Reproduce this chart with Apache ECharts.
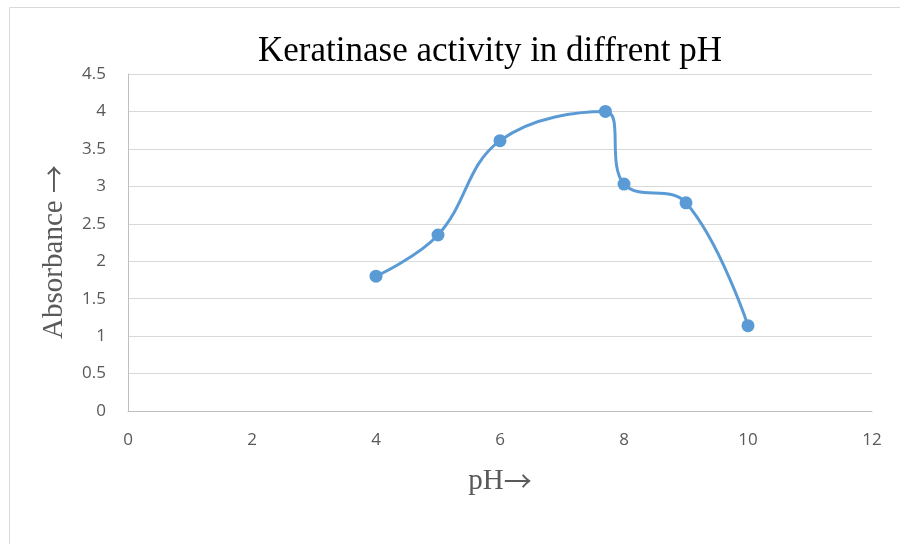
<!DOCTYPE html>
<html>
<head>
<meta charset="utf-8">
<script src="https://cdn.jsdelivr.net/npm/echarts@6/dist/echarts.min.js"></script>
<style>
  html, body { margin: 0; padding: 0; background: #fff; }
  #chart { width: 900px; height: 544px; }
</style>
</head>
<body>
<div id="chart"></div>
<script>
// pH values and measured absorbance
var phValues = [4, 5, 6, 7.7, 8, 9, 10]
var absorbance = [1.8, 2.35, 3.61, 4.0, 3.03, 2.78, 1.14]
var xTicks = [0, 2, 4, 6, 8, 10, 12]
var yTicks = [0, 0.5, 1, 1.5, 2, 2.5, 3, 3.5, 4, 4.5]

var myChart = echarts.init(document.getElementById('chart'))
var points = phValues.map(function (x, i) { return [x, absorbance[i]] })

var nameRich = {
  t: { fontFamily: 'Liberation Serif', fontSize: 29, color: '#595959' },
  a: { fontFamily: 'Noto Sans CJK SC', fontSize: 28, color: '#595959' }
}
// graphic 里的富文本用 fill
var graphicRich = {
  t: { fontFamily: 'Liberation Serif', fontSize: 29, fill: '#595959' },
  a: { fontFamily: 'Noto Sans CJK SC', fontSize: 28, fill: '#595959' }
}

var option = {
  animation: false,
  graphic: [{
    type: 'rect',
    shape: { x: 9.5, y: 7.5, width: 900, height: 600 },
    style: { fill: 'none', stroke: '#d9d9d9', lineWidth: 1 }
  }, {
    // y 轴名称
    type: 'text',
    x: 54,
    y: 252,
    rotation: Math.PI / 2,
    style: {
      text: '{t|Absorbance }{a|→}',
      rich: graphicRich,
      fill: '#595959',
      align: 'center',
      verticalAlign: 'middle'
    }
  }],
  title: {
    text: 'Keratinase activity in diffrent pH',
    left: 485,
    top: 29,
    textAlign: 'center',
    textStyle: {
      fontFamily: 'Liberation Serif',
      fontSize: 35,
      fontWeight: 'normal',
      color: '#000'
    }
  },
  grid: {
    left: 128,
    right: 28,
    top: 74,
    bottom: 133
  },
  xAxis: {
    type: 'value',
    min: xTicks[0],
    max: xTicks[xTicks.length - 1],
    interval: 2,
    name: '{t|pH}{a|→}',
    nameLocation: 'middle',
    nameGap: 56,
    nameTextStyle: { rich: nameRich },
    // 坐标轴轴线
    axisLine: { show: true, lineStyle: { color: '#bfbfbf', width: 1 } },
    axisTick: { show: false },
    axisLabel: { color: '#595959', fontSize: 17, fontFamily: 'Open Sans', margin: 21 },
    splitLine: { show: false }
  },
  yAxis: {
    type: 'value',
    min: yTicks[0],
    max: yTicks[yTicks.length - 1],
    interval: 0.5,
    axisLine: { show: true, lineStyle: { color: '#bfbfbf', width: 1 } },
    axisTick: { show: false },
    axisLabel: { color: '#595959', fontSize: 17, fontFamily: 'Open Sans', margin: 22 },
    // 分隔线
    splitLine: { show: true, lineStyle: { color: '#d9d9d9', width: 1 } }
  },
  series: [{
    type: 'line',
    data: points,
    smooth: 0.4,
    symbol: 'circle',
    symbolSize: 13,
    lineStyle: { color: '#5b9bd5', width: 3 },
    itemStyle: { color: '#5b9bd5' }
  }]
}
myChart.setOption(option)
</script>
</body>
</html>
